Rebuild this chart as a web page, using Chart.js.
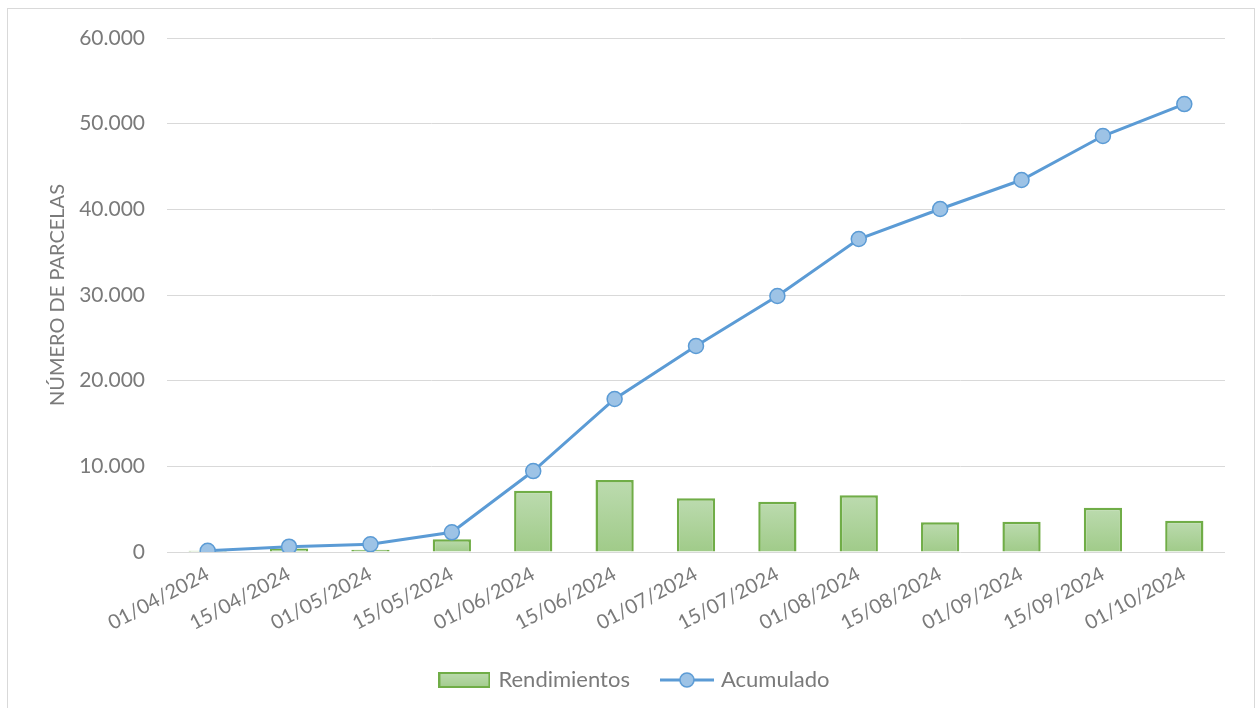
<!DOCTYPE html>
<html>
<head>
<meta charset="utf-8">
<script src="https://cdn.jsdelivr.net/npm/chart.js@4"></script>
<style>
  body { margin: 0; background: #fff; }
  #wrap { position: absolute; left: 0; top: 0; width: 1259px; height: 708px; }
  #frame { position: absolute; left: 7px; top: 8px; width: 1246px; height: 760px; border: 1px solid #d9d9d9; pointer-events: none; }
</style>
</head>
<body>
<div id="wrap"><canvas id="chart" width="1259" height="708"></canvas></div>
<div id="frame"></div>
<script>
const fechas = ['01/04/2024', '15/04/2024', '01/05/2024', '15/05/2024', '01/06/2024', '15/06/2024', '01/07/2024',
  '15/07/2024', '01/08/2024', '15/08/2024', '01/09/2024', '15/09/2024', '01/10/2024'];
const rendimientos = [150, 400, 250, 1500, 7150, 8400, 6270, 5870, 6620, 3470, 3540, 5170, 3650];
const acumulado = [150, 620, 900, 2300, 9450, 17860, 24050, 29880, 36540, 40040, 43420, 48560, 52290];

const gris = '#7a7a7a';
const fuente = 'Lato, "Open Sans", sans-serif';

// iconos de la leyenda
function iconoBarra() {
  const c = document.createElement('canvas');
  c.width = 52; c.height = 16;
  const g = c.getContext('2d');
  const gr = g.createLinearGradient(0, 0, 0, 16);
  gr.addColorStop(0, '#bcdbaf');
  gr.addColorStop(1, '#a2cc8c');
  g.fillStyle = gr;
  g.fillRect(1, 1, 50, 14);
  g.strokeStyle = '#70ad47';
  g.lineWidth = 2;
  g.strokeRect(1, 1, 50, 14);
  return c;
}
function iconoLinea() {
  const c = document.createElement('canvas');
  c.width = 54; c.height = 18;
  const g = c.getContext('2d');
  g.strokeStyle = '#5b9bd5';
  g.lineWidth = 3;
  g.beginPath(); g.moveTo(0, 9); g.lineTo(54, 9); g.stroke();
  g.fillStyle = '#9dc3e6';
  g.lineWidth = 1.5;
  g.beginPath(); g.arc(27, 9, 7, 0, Math.PI * 2); g.fill(); g.stroke();
  return c;
}

function rellenoBarra(ctx) {
  const chart = ctx.chart;
  const area = chart.chartArea;
  if (!area || ctx.parsed === undefined) return '#abd198';
  const y = chart.scales.y;
  const top = y.getPixelForValue(ctx.parsed.y);
  const base = y.getPixelForValue(0);
  if (!isFinite(top) || top >= base) return '#abd198';
  const gr = chart.ctx.createLinearGradient(0, top, 0, base);
  gr.addColorStop(0, '#bcdbaf');
  gr.addColorStop(1, '#a0cb89');
  return gr;
}

new Chart(document.getElementById('chart'), {
  type: 'bar',
  data: {
    labels: fechas,
    datasets: [{
      label: 'Rendimientos',
      data: rendimientos,
      backgroundColor: rellenoBarra,
      borderColor: '#70ad47',
      borderWidth: 2.5,
      borderSkipped: 'bottom',
      barPercentage: 0.47,
      categoryPercentage: 1,
      order: 2
    }, {
      type: 'line',
      label: 'Acumulado',
      data: acumulado,
      borderColor: '#5b9bd5',
      borderWidth: 3,
      pointRadius: 7.5,
      pointBackgroundColor: '#9dc3e6',
      pointBorderColor: '#5b9bd5',
      pointBorderWidth: 1.5,
      tension: 0,
      order: 1
    }]
  },
  options: {
    responsive: false,
    animation: false,
    layout: { padding: { left: 46, right: 34, top: 38, bottom: 7 } },
    scales: {
      x: {
        grid: { display: false, drawTicks: false },
        border: { display: false },
        afterFit: s => { s.height = 83; },
        ticks: {
          color: gris,
          font: { family: fuente, size: 20 },
          padding: 10,
          minRotation: 28,
          maxRotation: 28
        }
      },
      y: {
        min: 0,
        max: 60000,
        afterFit: s => { s.width = 121; },
        grid: { color: '#d9d9d9', lineWidth: 1, drawTicks: false },
        border: { display: false },
        ticks: {
          stepSize: 10000,
          color: gris,
          padding: 22,
          font: { family: fuente, size: 21 },
          callback: v => v.toLocaleString('de-DE')
        },
        title: {
          display: true,
          text: 'NÚMERO DE PARCELAS',
          color: gris,
          padding: 0,
          font: { family: fuente, size: 20 }
        }
      }
    },
    plugins: {
      tooltip: { enabled: false },
      legend: {
        position: 'bottom',
        labels: {
          color: gris,
          font: { family: fuente, size: 22 },
          usePointStyle: true,
          pointStyleWidth: 46,
          padding: 34,
          generateLabels: chart => [
            { text: 'Rendimientos', pointStyle: iconoBarra(), fontColor: gris, datasetIndex: 0, lineWidth: 0 },
            { text: 'Acumulado', pointStyle: iconoLinea(), fontColor: gris, datasetIndex: 1, lineWidth: 0 }
          ]
        }
      }
    }
  }
});
</script>
</body>
</html>
